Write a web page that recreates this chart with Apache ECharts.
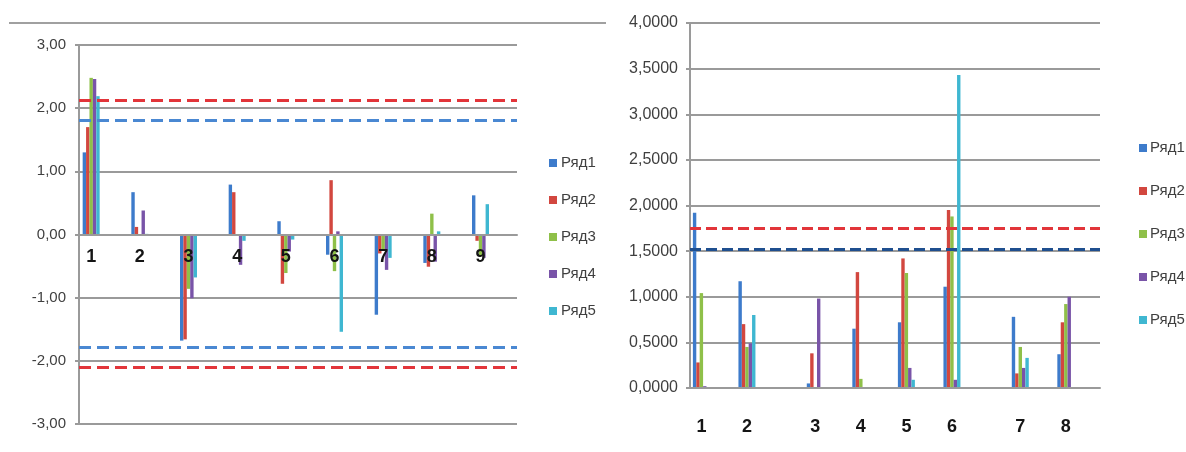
<!DOCTYPE html>
<html>
<head>
<meta charset="utf-8">
<script src="https://cdn.jsdelivr.net/npm/echarts@6/dist/echarts.min.js"></script>
<style>
  html, body { margin: 0; padding: 0; background: #fff; }
  #chart { width: 1186px; height: 452px; }
</style>
</head>
<body>
<div id="chart"></div>
<script>
// Left panel: deviations, categories separated by blank rows
const leftCategories = ['1','','2','','3','','4','','5','','6','','7','','8','','9',''];
const leftRow1 = [1.30, 0.67, -1.68, 0.79, 0.21, -0.32, -1.27, -0.45, 0.62];
const leftRow2 = [1.70, 0.12, -1.66, 0.67, -0.78, 0.86, -0.30, -0.51, -0.10];
const leftRow3 = [2.48, -0.02, -0.86, 0.00, -0.61, -0.58, -0.25, 0.33, -0.35];
const leftRow4 = [2.46, 0.38, -1.01, -0.48, -0.27, 0.05, -0.56, -0.43, -0.37];
const leftRow5 = [2.19, 0.01, -0.68, -0.10, -0.08, -1.54, -0.37, 0.05, 0.48];
const leftUpperRed = 2.13, leftLowerRed = -2.10;
const leftUpperBlue = 1.81, leftLowerBlue = -1.79;

// Right panel: magnitudes
const rightCategories = ['1','','2','','','3','','4','','5','','6','','','7','','8',''];
const rightRow1 = [1.92, 1.17, 0.05, 0.65, 0.72, 1.11, 0.78, 0.37];
const rightRow2 = [0.28, 0.70, 0.38, 1.27, 1.42, 1.95, 0.16, 0.72];
const rightRow3 = [1.04, 0.45, 0.00, 0.10, 1.26, 1.88, 0.45, 0.92];
const rightRow4 = [0.02, 0.49, 0.98, 0.01, 0.22, 0.09, 0.22, 1.00];
const rightRow5 = [0.00, 0.80, 0.01, 0.00, 0.09, 3.43, 0.33, 0.00];
const rightRed = 1.75, rightNavy = 1.52;

const seriesNames = ['Ряд1', 'Ряд2', 'Ряд3', 'Ряд4', 'Ряд5'];
const colors = ['#3d7bcb', '#d2473f', '#8fc049', '#7954a8', '#3fb7d1'];

// place values into the labelled category slots, blanks stay empty
function spread(categories, values) {
  let k = 0;
  return categories.map(c => (c === '' ? null : values[k++]));
}

const gridLine = { color: '#9a9a9a', width: 2 };
const yLabelStyle = { color: '#3f3f3f', fontFamily: 'Liberation Sans, Arial, sans-serif' };
const xLabelStyle = { color: '#151515', fontWeight: 'bold', fontSize: 18, fontFamily: 'Liberation Sans, Arial, sans-serif' };

function dashed(value, color, dash) {
  return { yAxis: value, lineStyle: { color: color, width: 3, type: dash } };
}

function barSeries(idx, name, data, cats, marks) {
  const s = {
    name: name,
    type: 'bar',
    xAxisIndex: idx,
    yAxisIndex: idx,
    data: spread(cats, data),
    barWidth: 3.4,
    barGap: '0%',
    itemStyle: { color: colors[seriesNames.indexOf(name)] },
    silent: true
  };
  if (marks) {
    s.markLine = {
      silent: true,
      symbol: 'none',
      label: { show: false },
      z: 5,
      data: marks
    };
  }
  return s;
}

const leftRows = [leftRow1, leftRow2, leftRow3, leftRow4, leftRow5];
const rightRows = [rightRow1, rightRow2, rightRow3, rightRow4, rightRow5];

const series = [];
leftRows.forEach((row, i) => {
  series.push(barSeries(0, seriesNames[i], row, leftCategories, i === 0 ? [
    dashed(leftUpperRed, '#e2353a', [12, 6]),
    dashed(leftUpperBlue, '#4a88d2', [12, 6]),
    dashed(leftLowerBlue, '#4a88d2', [12, 6]),
    dashed(leftLowerRed, '#e2353a', [12, 6])
  ] : null));
});
rightRows.forEach((row, i) => {
  series.push(barSeries(1, seriesNames[i], row, rightCategories, i === 0 ? [
    dashed(rightRed, '#e2353a', [11, 5]),
    dashed(rightNavy, '#1f4f8f', [11, 5])
  ] : null));
});

// left grid geometry; the category axis is lifted to the zero level
const leftTop = 45, leftHeight = 379, leftMin = -3, leftMax = 3;
const leftZeroLift = leftHeight * (0 - leftMin) / (leftMax - leftMin);

const chart = echarts.init(document.getElementById('chart'), null, { renderer: 'canvas' });
chart.setOption({
  animation: false,
  backgroundColor: '#ffffff',
  color: colors,
  graphic: [{
    type: 'line',
    shape: { x1: 9, y1: 23, x2: 606, y2: 23 },
    style: { stroke: '#a0a0a0', lineWidth: 2 }
  }],
  grid: [
    { left: 79, top: leftTop, width: 438, height: leftHeight },
    { left: 690, top: 23, width: 410, height: 365 }
  ],
  xAxis: [
    {
      gridIndex: 0, type: 'category', data: leftCategories, z: 10,
      offset: -leftZeroLift,
      axisLine: { show: true, onZero: false, lineStyle: gridLine },
      axisTick: { show: false },
      axisLabel: Object.assign({ interval: 0, margin: 14 }, xLabelStyle)
    },
    {
      gridIndex: 1, type: 'category', data: rightCategories, z: 10,
      axisLine: { show: true, lineStyle: gridLine },
      axisTick: { show: false },
      axisLabel: Object.assign({ interval: 0, margin: 30 }, xLabelStyle)
    }
  ],
  yAxis: [
    {
      gridIndex: 0, type: 'value', min: leftMin, max: leftMax, interval: 1,
      axisLine: { show: true, lineStyle: gridLine },
      axisTick: { show: true, length: 4, lineStyle: gridLine },
      splitLine: { show: true, lineStyle: gridLine },
      axisLabel: Object.assign({ fontSize: 15, margin: 13,
        formatter: v => v.toFixed(2).replace('.', ',') }, yLabelStyle)
    },
    {
      gridIndex: 1, type: 'value', min: 0, max: 4, interval: 0.5,
      axisLine: { show: true, lineStyle: gridLine },
      axisTick: { show: true, length: 4, lineStyle: gridLine },
      splitLine: { show: true, lineStyle: gridLine },
      axisLabel: Object.assign({ fontSize: 16, margin: 12,
        formatter: v => v.toFixed(4).replace('.', ',') }, yLabelStyle)
    }
  ],
  legend: [
    {
      left: 544, top: 150, orient: 'vertical', icon: 'rect',
      itemWidth: 8, itemHeight: 8, itemGap: 21,
      data: seriesNames, selectedMode: false,
      textStyle: { fontSize: 15, lineHeight: 16, padding: [0, 0, 0, -1], color: '#3f3f3f', fontFamily: 'Liberation Sans, Arial, sans-serif' }
    },
    {
      left: 1134, top: 135, orient: 'vertical', icon: 'rect',
      itemWidth: 8, itemHeight: 8, itemGap: 27,
      data: seriesNames, selectedMode: false,
      textStyle: { fontSize: 15, lineHeight: 16, padding: [0, 0, 0, -2], color: '#3f3f3f', fontFamily: 'Liberation Sans, Arial, sans-serif' }
    }
  ],
  series: series
});
</script>
</body>
</html>
